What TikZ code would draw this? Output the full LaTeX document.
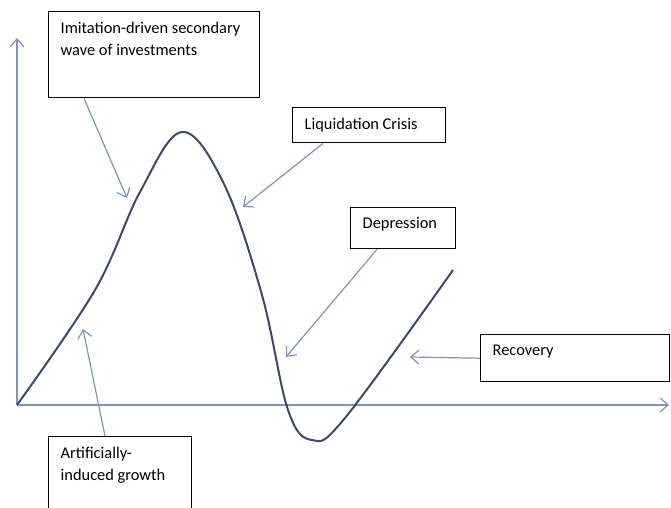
\documentclass[tikz,border=0pt]{standalone}
\usepackage{fontspec}
\setmainfont{Carlito}
\usetikzlibrary{arrows.meta, positioning}

\definecolor{axisblue}{HTML}{7F93BD}
\definecolor{curveblue}{HTML}{3B4A6B}

\newcommand{\boxtext}[3]{\parbox[t][#2][t]{#1}{#3}}

\begin{document}
\begin{tikzpicture}[x=0.5pt, y=-0.5pt, >={Straight Barb[length=4pt,width=7pt]},
	phase/.style={draw, line width=0.7pt, anchor=north west, inner xsep=6pt, inner ysep=5pt, font=\fontsize{8.2}{11}\selectfont},
	pointer/.style={->, draw=axisblue, line width=0.6pt},
	axis/.style={->, draw=axisblue, line width=0.6pt}]
			\useasboundingbox (0,0) rectangle (671,508);
			
			% axes
			\coordinate (o) at (17,405);
			\coordinate (ytip) at (17,38);
			\coordinate (xtip) at (669,405);
			\draw[axis] (o) -- (ytip);
			\draw[axis] (o) -- (xtip);
			
			% business cycle
			\draw[curveblue, line width=1pt] plot[smooth, tension=0.6] coordinates {
				(17,405) (95,290) (140,192) (182,132) (224,184) (262,295)
				(288,410) (312,440) (345,418) (453,270)};
			
			% phases
			\node[phase] (imit) at (48,11) {\boxtext{93.5pt}{33pt}{Imitation-driven secondary\\wave of investments}};
			\node[phase] (liq) at (292,107) {\boxtext{64.5pt}{7.5pt}{Liquidation Crisis}};
			\node[phase] (dep) at (350,207) {\boxtext{40.5pt}{10.5pt}{Depression}};
			\node[phase] (rec) at (480,334) {\boxtext{82.5pt}{13.5pt}{Recovery}};
			\node[phase] (art) at (48,436) {\boxtext{59.5pt}{30pt}{Artificially-\\induced growth}};
			
			\coordinate (imittip) at (127,198);
			\coordinate (liqtip) at (243,207);
			\coordinate (deptip) at (286,357);
			\coordinate (rectip) at (410,357);
			\coordinate (arttip) at (83,329);
			
			\draw[pointer] ([xshift=18pt]imit.south west) -- (imittip);
			\draw[pointer] ([xshift=15.5pt]liq.south west) -- (liqtip);
			\draw[pointer] ([xshift=13.5pt]dep.south west) -- (deptip);
			\draw[pointer] (rec.west) -- (rectip);
			\draw[pointer] ([xshift=28.5pt]art.north west) -- (arttip);
		\end{tikzpicture}
\end{document}
